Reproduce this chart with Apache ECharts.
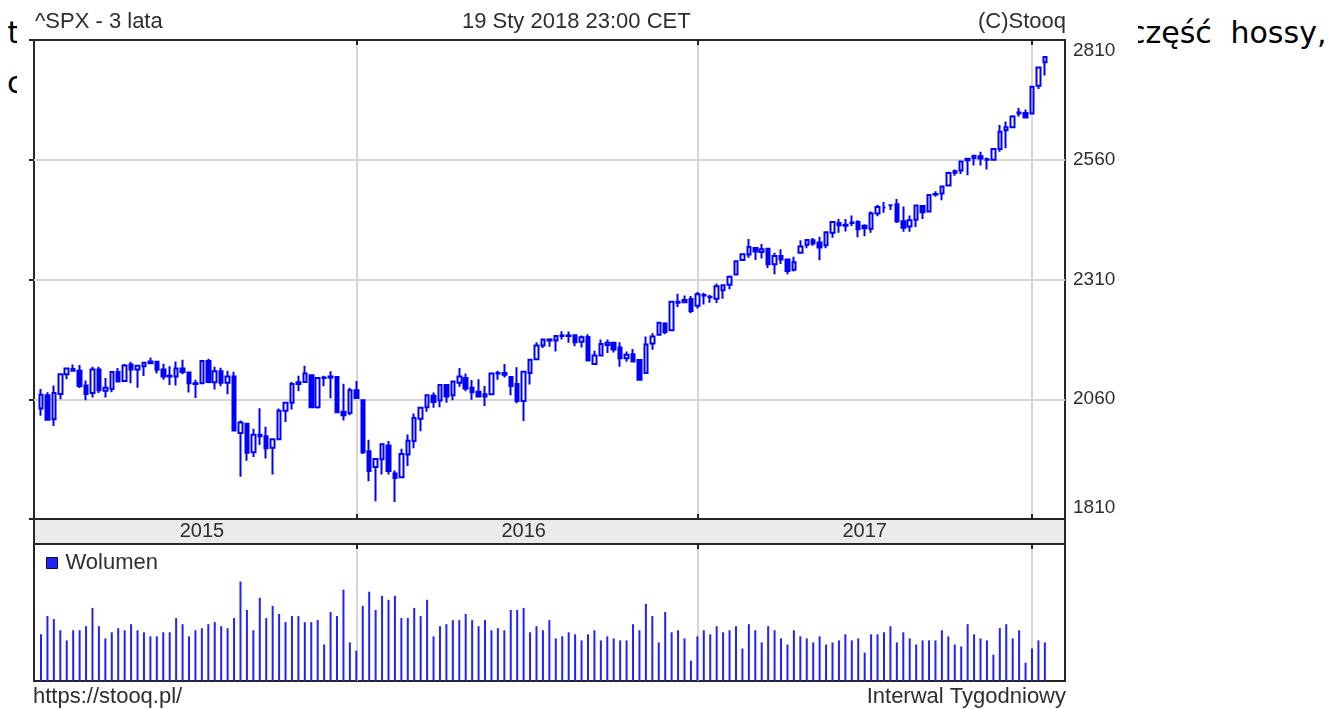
<!DOCTYPE html>
<html lang="pl">
<head>
<meta charset="utf-8">
<title>^SPX - 3 lata</title>
<script src="https://cdn.jsdelivr.net/npm/echarts/dist/echarts.min.js"></script>
<style>
  html, body { margin: 0; padding: 0; background: #fff; width: 1336px; height: 709px; overflow: hidden; }
  .page-text { position: absolute; font-family: 'DejaVu Sans', sans-serif; font-size: 30px; line-height: 30px; color: #000; white-space: pre; z-index: 0; }
  #sheet { position: absolute; left: 17px; top: 0; width: 1121px; height: 709px; background: #fff; z-index: 1; }
  #chart { position: absolute; left: 0; top: 0; width: 1336px; height: 709px; z-index: 2; }
</style>
</head>
<body>
<div class="page-text" style="left:7.5px; top:17.6px">t</div>
<div class="page-text" style="left:1129px; top:17.6px">część</div>
<div class="page-text" style="left:1230.5px; top:17.6px">hossy,</div>
<div class="page-text" style="left:7px; top:67.6px">c</div>
<div id="sheet"></div>
<div id="chart"></div>
<script>
// S&P 500 weekly candles, three years up to 19 Jan 2018 (weeks dated by their Friday)
const firstWeek = '2015-01-23';

const open = [
  2020, 2050, 1996, 2053, 2097, 2109, 2105, 2072, 2055, 2108, 2060, 2064, 2102, 2082, 2119, 2108, 2115, 2122, 2125, 2108,
  2092, 2092, 2110, 2101, 2075, 2077, 2127, 2079, 2104, 2078, 2092, 1965, 1986, 1922, 1961, 1958, 1932, 1951, 2015, 2033,
  2075, 2080, 2095, 2023, 2089, 2090, 2091, 2013, 2010, 2061,
  2039, 1924, 1889, 1906, 1937, 1874, 1866, 1917, 1947, 1997, 2023, 2049, 2038, 2073, 2050, 2078, 2089, 2067, 2058, 2047,
  2052, 2100, 2100, 2091, 2075, 2037, 2100, 2131, 2162, 2175, 2173, 2183, 2183, 2185, 2170, 2181, 2120, 2139, 2163, 2168,
  2157, 2133, 2142, 2129, 2100, 2166, 2186, 2211, 2196, 2260, 2259, 2266,
  2251, 2274, 2270, 2267, 2286, 2298, 2321, 2354, 2366, 2381, 2372, 2379, 2344, 2363, 2355, 2332, 2370, 2388, 2398, 2393,
  2387, 2415, 2437, 2431, 2437, 2439, 2431, 2424, 2458, 2472, 2477, 2479, 2441, 2429, 2444, 2475, 2463, 2501, 2503, 2521,
  2550, 2555, 2578, 2583, 2587, 2580, 2579, 2603, 2645, 2652, 2685, 2684,
  2683, 2745, 2798
];
const high = [
  2064, 2057, 2072, 2097, 2110, 2119, 2118, 2083, 2114, 2114, 2089, 2102, 2111, 2120, 2125, 2117, 2123, 2135, 2126, 2121,
  2115, 2126, 2130, 2101, 2085, 2129, 2132, 2114, 2112, 2105, 2103, 1993, 1986, 1975, 2021, 1979, 1951, 2020, 2033, 2080,
  2094, 2116, 2095, 2090, 2094, 2104, 2093, 2076, 2067, 2082,
  2039, 1950, 1909, 1940, 1947, 1881, 1930, 1962, 2009, 2022, 2052, 2056, 2075, 2073, 2083, 2111, 2099, 2084, 2086, 2071,
  2100, 2105, 2120, 2091, 2113, 2103, 2131, 2169, 2175, 2178, 2183, 2194, 2193, 2187, 2184, 2187, 2150, 2175, 2175, 2169,
  2169, 2148, 2154, 2131, 2182, 2189, 2214, 2214, 2260, 2278, 2274, 2273,
  2282, 2280, 2276, 2301, 2299, 2319, 2352, 2368, 2401, 2383, 2390, 2379, 2370, 2378, 2356, 2361, 2398, 2400, 2403, 2406,
  2418, 2440, 2446, 2446, 2454, 2443, 2434, 2463, 2478, 2484, 2478, 2491, 2474, 2454, 2477, 2475, 2501, 2508, 2520, 2552,
  2557, 2575, 2582, 2588, 2597, 2584, 2605, 2657, 2665, 2679, 2695, 2692,
  2743, 2787, 2810
];
const low = [
  2004, 1993, 1981, 2041, 2086, 2103, 2066, 2039, 2045, 2055, 2045, 2057, 2079, 2080, 2077, 2067, 2093, 2120, 2099, 2085,
  2073, 2072, 2097, 2056, 2044, 2077, 2077, 2063, 2070, 2052, 1970, 1867, 1903, 1911, 1938, 1908, 1872, 1951, 1990, 2018,
  2059, 2080, 2022, 2020, 2070, 2043, 2012, 1993, 2005, 2044,
  1918, 1857, 1812, 1872, 1872, 1810, 1866, 1891, 1931, 1969, 2013, 2022, 2023, 2033, 2039, 2069, 2059, 2040, 2045, 2026,
  2052, 2085, 2090, 2050, 2032, 1992, 2074, 2131, 2156, 2159, 2148, 2175, 2168, 2160, 2157, 2127, 2120, 2139, 2145, 2146,
  2114, 2125, 2125, 2083, 2098, 2152, 2186, 2187, 2196, 2248, 2258, 2234,
  2245, 2254, 2258, 2257, 2267, 2288, 2321, 2352, 2359, 2354, 2357, 2336, 2322, 2345, 2322, 2328, 2370, 2380, 2386, 2353,
  2380, 2404, 2415, 2418, 2430, 2405, 2407, 2415, 2452, 2460, 2466, 2437, 2417, 2417, 2428, 2446, 2462, 2496, 2488, 2521,
  2543, 2547, 2544, 2566, 2566, 2557, 2579, 2597, 2605, 2652, 2676, 2673,
  2683, 2738, 2768
];
const close = [
  2051, 1995, 2055, 2097, 2110, 2105, 2071, 2053, 2108, 2061, 2067, 2102, 2081, 2117, 2108, 2116, 2123, 2126, 2107, 2092,
  2094, 2110, 2102, 2077, 2077, 2127, 2080, 2104, 2078, 2092, 1971, 1989, 1921, 1961, 1958, 1931, 1951, 2015, 2033, 2075,
  2079, 2099, 2023, 2089, 2090, 2092, 2012, 2005, 2061, 2044,
  1922, 1880, 1907, 1940, 1880, 1864, 1918, 1948, 1999, 2022, 2050, 2035, 2073, 2047, 2081, 2092, 2065, 2057, 2047, 2052,
  2099, 2099, 2096, 2071, 2037, 2103, 2130, 2162, 2175, 2173, 2183, 2184, 2184, 2169, 2180, 2128, 2139, 2165, 2168, 2153,
  2133, 2141, 2126, 2085, 2164, 2182, 2213, 2192, 2260, 2258, 2264, 2239,
  2277, 2275, 2271, 2295, 2297, 2316, 2351, 2367, 2383, 2373, 2378, 2344, 2363, 2355, 2329, 2349, 2384, 2399, 2391, 2382,
  2416, 2439, 2432, 2433, 2438, 2423, 2425, 2459, 2473, 2472, 2477, 2441, 2426, 2443, 2476, 2461, 2500, 2502, 2519, 2549,
  2553, 2575, 2581, 2588, 2582, 2579, 2603, 2642, 2652, 2676, 2683, 2674,
  2743, 2786, 2810
];

// weekly volume, relative units (the panel carries no scale)
const volume = [
  46, 64, 61, 50, 40, 50, 50, 54, 72, 54, 42, 48, 52, 50, 56, 50, 48, 44, 44, 48,
  48, 62, 56, 44, 50, 52, 56, 58, 54, 52, 62, 98, 70, 50, 82, 62, 74, 66, 58, 64,
  64, 58, 58, 60, 36, 68, 64, 90, 38, 30, 74, 88, 70, 84, 80, 84, 62, 62, 72, 64,
  80, 44, 54, 56, 60, 60, 66, 60, 54, 60, 50, 52, 50, 70, 70, 72, 48, 54, 50, 60,
  42, 44, 48, 46, 40, 46, 50, 40, 44, 42, 40, 40, 56, 50, 76, 64, 38, 68, 48, 50,
  42, 20, 44, 50, 46, 54, 48, 50, 54, 32, 56, 50, 38, 54, 50, 42, 36, 50, 44, 42,
  38, 44, 36, 38, 40, 46, 40, 42, 28, 46, 46, 48, 54, 38, 48, 42, 36, 40, 40, 40,
  50, 44, 36, 34, 56, 46, 42, 40, 26, 52, 56, 42, 50, 18, 32, 40, 38
];

// price scale: data range plus padding, split in quarters; labels quote the data range
const priceMin = 1772, priceMax = 2848, priceStep = 269;
const priceTickLabels = ['1810', '2060', '2310', '2560', '2810'];
const volumeMax = 135;
const yearLabelWeeks = ['2015-07-17', '2016-07-01', '2017-07-07'];

// week categories (Fridays)
const weeks = [];
(function () {
  const t0 = Date.parse(firstWeek + 'T00:00:00Z');
  for (let i = 0; i < close.length; i++) {
    weeks.push(new Date(t0 + i * 7 * 864e5).toISOString().slice(0, 10));
  }
})();
const isYearStart = (i) => i > 0 && weeks[i].slice(0, 4) !== weeks[i - 1].slice(0, 4);
const candles = weeks.map((w, i) => [open[i], close[i], low[i], high[i]]);

// layout
const FONT = "'Liberation Sans', Arial, sans-serif";
const INK = '#2e2e2e';
const FRAME_COLOR = '#262626';
const GRID_COLOR = '#d6d6d6';
const BLUE = '#0000ff';
const frameLeft = 34, frameWidth = 1031;
const plotLeft = 41, weekStep = 6.435;
const plotWidth = weekStep * (weeks.length - 1);
const priceTop = 40, priceHeight = 479;
const bandTop = 519, bandHeight = 25;
const volTop = 544, volHeight = 137;

const frameGrid = (top, height, bg) => ({
  left: frameLeft, top: top, width: frameWidth, height: height,
  show: true, borderColor: FRAME_COLOR, borderWidth: 2, backgroundColor: bg || 'transparent'
});
const plotGrid = (top, height) => ({ left: plotLeft, top: top, width: plotWidth, height: height });
const hiddenValue = (gridIndex) => ({ type: 'value', gridIndex: gridIndex, show: false });
const yearTick = () => ({ show: true, inside: true, length: 5, interval: isYearStart, lineStyle: { color: FRAME_COLOR, width: 2 } });
const yearLine = () => ({ show: true, interval: isYearStart, lineStyle: { color: GRID_COLOR, width: 2 } });
const weekAxis = (gridIndex, position, extra) => Object.assign({
  type: 'category', gridIndex: gridIndex, position: position, data: weeks, boundaryGap: false,
  axisLine: { show: false, onZero: false }, axisLabel: { show: false }, axisTick: { show: false }, splitLine: { show: false }
}, extra);

const titleText = (text, pos, top) => Object.assign({
  text: text, top: top, padding: 0,
  textStyle: { fontFamily: FONT, fontSize: 22, lineHeight: 22, fontWeight: 'normal', color: INK }
}, pos);

// axis indices
const X_CANDLE = 1, Y_CANDLE = 1, X_VOLUME = 6, Y_VOLUME = 5;

const option = {
  backgroundColor: 'transparent',
  animation: false,
  title: [
    titleText('^SPX - 3 lata', { left: 35 }, 11),
    titleText('19 Sty 2018 23:00 CET', { left: 462 }, 11),
    titleText('(C)Stooq', { right: 270 }, 11),
    titleText('https://stooq.pl/', { left: 33 }, 686),
    titleText('Interwal Tygodniowy', { right: 270 }, 686)
  ],
  legend: {
    data: ['Wolumen'], left: 46, top: 552, padding: 0,
    icon: 'rect', itemWidth: 11, itemHeight: 11,
    itemStyle: { borderColor: '#111', borderWidth: 1 },
    textStyle: { fontFamily: FONT, fontSize: 22, lineHeight: 22, color: INK, padding: [0, 0, 0, 3] }
  },
  grid: [
    frameGrid(priceTop, priceHeight),            // 0 price frame + price scale
    plotGrid(priceTop, priceHeight),             // 1 candles
    frameGrid(bandTop, bandHeight, '#ebebeb'),   // 2 year band
    plotGrid(bandTop, bandHeight),               // 3 year labels
    frameGrid(volTop, volHeight),                // 4 volume frame
    plotGrid(volTop, volHeight)                  // 5 volume bars
  ],
  xAxis: [
    hiddenValue(0),                                                     // 0
    weekAxis(1, 'bottom', { axisTick: yearTick(), splitLine: yearLine() }), // 1
    weekAxis(1, 'top', { axisTick: yearTick() }),                      // 2
    hiddenValue(2),                                                     // 3
    weekAxis(3, 'bottom', {                                             // 4
      axisLabel: {
        show: true, inside: true, margin: 12.5, verticalAlign: 'middle',
        interval: (i, v) => yearLabelWeeks.indexOf(v) >= 0,
        formatter: (v) => v.slice(0, 4),
        fontFamily: FONT, fontSize: 20, color: INK
      }
    }),
    hiddenValue(4),                                                     // 5
    weekAxis(5, 'top', { axisTick: yearTick(), splitLine: yearLine() }) // 6
  ],
  yAxis: [
    {
      type: 'value', gridIndex: 0, position: 'right',
      min: priceMin, max: priceMax, interval: priceStep,
      axisLine: { show: false },
      axisTick: { show: true, inside: true, length: 5, lineStyle: { color: FRAME_COLOR, width: 2 } },
      splitLine: { show: true, showMinLine: false, showMaxLine: false, lineStyle: { color: GRID_COLOR, width: 2 } },
      axisLabel: {
        margin: 8, fontFamily: FONT, fontSize: 19, color: INK,
        formatter: (v, i) => {
          const t = priceTickLabels[i];
          if (i === priceTickLabels.length - 1) return '{hi|' + t + '}';
          if (i === 0) return '{lo|' + t + '}';
          return t;
        },
        rich: {
          hi: { fontFamily: FONT, fontSize: 19, color: INK, padding: [22, 0, 0, 0] },
          lo: { fontFamily: FONT, fontSize: 19, color: INK, padding: [0, 0, 22, 0] }
        }
      }
    },
    { type: 'value', gridIndex: 1, min: priceMin, max: priceMax, show: false },
    hiddenValue(2),
    hiddenValue(3),
    hiddenValue(4),
    { type: 'value', gridIndex: 5, min: 0, max: volumeMax, show: false }
  ],
  series: [
    {
      name: '^SPX', type: 'candlestick', xAxisIndex: X_CANDLE, yAxisIndex: Y_CANDLE,
      data: candles, barWidth: 4, clip: false,
      itemStyle: { color: '#ffffff', color0: BLUE, borderColor: BLUE, borderColor0: BLUE, borderWidth: 2 }
    },
    {
      name: 'Wolumen', type: 'bar', xAxisIndex: X_VOLUME, yAxisIndex: Y_VOLUME,
      data: volume, barWidth: 2, itemStyle: { color: '#2222ff' }
    }
  ]
};

const chart = echarts.init(document.getElementById('chart'), null, { renderer: 'canvas' });
chart.setOption(option);
</script>
</body>
</html>
